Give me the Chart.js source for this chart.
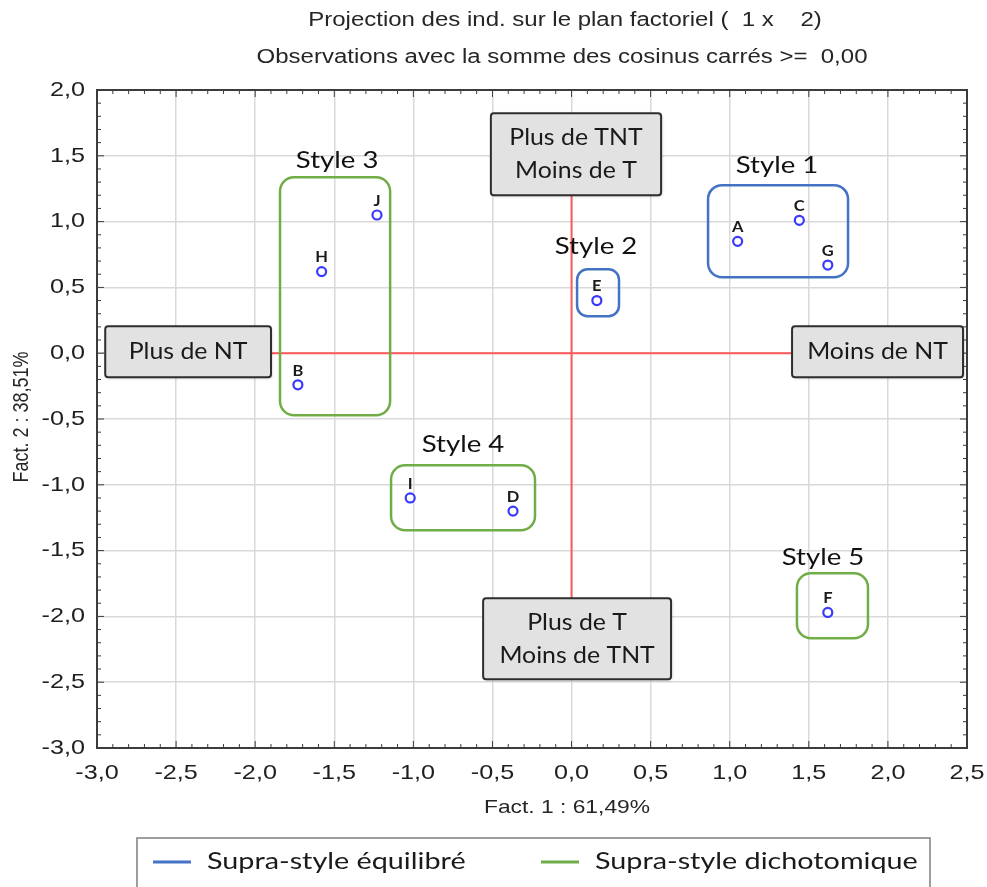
<!DOCTYPE html>
<html>
<head>
<meta charset="utf-8">
<script src="https://cdn.jsdelivr.net/npm/chart.js@4.4.0/dist/chart.umd.min.js"></script>
<style>
  html, body { margin: 0; padding: 0; background: #fff; }
  #wrap { width: 987px; height: 887px; }
</style>
</head>
<body>
<div id="wrap"><canvas id="chart" width="987" height="887"></canvas></div>
<script>
// individuals projected on factor plane 1 x 2
const pointNames = ['A', 'C', 'G', 'E', 'J', 'H', 'B', 'I', 'D', 'F'];
const fact1 = [1.05, 1.44, 1.62, 0.16, -1.23, -1.58, -1.73, -1.02, -0.37, 1.62];
const fact2 = [0.85, 1.01, 0.67, 0.40, 1.05, 0.62, -0.24, -1.10, -1.20, -1.97];

const xTicks = [-3.0, -2.5, -2.0, -1.5, -1.0, -0.5, 0.0, 0.5, 1.0, 1.5, 2.0, 2.5];
const yTicks = [-3.0, -2.5, -2.0, -1.5, -1.0, -0.5, 0.0, 0.5, 1.0, 1.5, 2.0];

const titleLines = ['Projection des ind. sur le plan factoriel (  1 x    2)',
                    'Observations avec la somme des cosinus carrés >=  0,00'];
const xTitle = 'Fact. 1 : 61,49%';
const yTitle = 'Fact. 2 : 38,51%';

const supraStyles = ['Supra-style équilibré', 'Supra-style dichotomique'];
const supraColors = ['#4472c4', '#70ad47'];

// style groups (boxes given in data units)
const styleGroups = [
  { label: 'Style 1', supra: 0, x0: 0.863, x1: 1.748, y0: 0.578, y1: 1.277, lx: 1.299, ly: 1.429 },
  { label: 'Style 2', supra: 0, x0: 0.035, x1: 0.300, y0: 0.281, y1: 0.638, lx: 0.155, ly: 0.813 },
  { label: 'Style 3', supra: 1, x0: -1.843, x1: -1.147, y0: -0.471, y1: 1.337, lx: -1.482, ly: 1.467 },
  { label: 'Style 4', supra: 1, x0: -1.141, x1: -0.231, y0: -1.345, y1: -0.851, lx: -0.686, ly: -0.691 },
  { label: 'Style 5', supra: 1, x0: 1.425, x1: 1.874, y0: -2.166, y1: -1.672, lx: 1.590, ly: -1.550 }
];

// grey boxes at the ends of the axes
const axisBoxes = [
  { lines: ['Plus de TNT', 'Moins de T'], x0: -0.51, x1: 0.566, y0: 1.201, y1: 1.824 },
  { lines: ['Plus de T', 'Moins de TNT'], x0: -0.559, x1: 0.629, y0: -2.477, y1: -1.862 },
  { lines: ['Plus de NT'], x0: -2.948, x1: -1.90, y0: -0.182, y1: 0.205 },
  { lines: ['Moins de NT'], x0: 1.394, x1: 2.475, y0: -0.182, y1: 0.205 }
];

const SX = 1.2; // the source picture is stretched horizontally
const ARIAL = '"Liberation Sans", Arial, sans-serif';
const CALI = 'Lato, "Noto Sans", sans-serif';

const fmt = v => (Math.abs(v) < 1e-9 ? 0 : v).toFixed(1).replace('.', ',');

function stretchText(ctx, text, x, y, font, align, color, sx) {
  ctx.save();
  ctx.font = font;
  ctx.fillStyle = color;
  ctx.textAlign = align || 'center';
  ctx.textBaseline = 'middle';
  ctx.translate(x, y);
  ctx.scale(sx || SX, 1);
  ctx.fillText(text, 0, 0);
  ctx.restore();
}

function roundRect(ctx, x, y, w, h, r) {
  ctx.beginPath();
  ctx.moveTo(x + r, y);
  ctx.lineTo(x + w - r, y);
  ctx.arcTo(x + w, y, x + w, y + r, r);
  ctx.lineTo(x + w, y + h - r);
  ctx.arcTo(x + w, y + h, x + w - r, y + h, r);
  ctx.lineTo(x + r, y + h);
  ctx.arcTo(x, y + h, x, y + h - r, r);
  ctx.lineTo(x, y + r);
  ctx.arcTo(x, y, x + r, y, r);
  ctx.closePath();
}

const decor = {
  id: 'decor',
  beforeDatasetsDraw(chart) {
    const { ctx, chartArea: a, scales: { x, y } } = chart;
    ctx.save();

    // red cross between the grey boxes
    const top = axisBoxes[0], bot = axisBoxes[1], lft = axisBoxes[2], rgt = axisBoxes[3];
    ctx.strokeStyle = '#ff5a5a';
    ctx.lineWidth = 2;
    ctx.beginPath();
    ctx.moveTo(x.getPixelForValue(0), y.getPixelForValue(top.y0));
    ctx.lineTo(x.getPixelForValue(0), y.getPixelForValue(bot.y1));
    ctx.moveTo(x.getPixelForValue(lft.x1), y.getPixelForValue(0));
    ctx.lineTo(x.getPixelForValue(rgt.x0), y.getPixelForValue(0));
    ctx.stroke();

    // frame and inner ticks
    ctx.strokeStyle = '#3c3c3c';
    ctx.lineWidth = 2;
    ctx.strokeRect(a.left, a.top, a.right - a.left, a.bottom - a.top);
    ctx.lineWidth = 1;
    ctx.beginPath();
    for (let i = 0; i <= 55; i++) {
      const v = -3 + i * 0.1;
      const len = i % 5 === 0 ? 7 : 4;
      const px = x.getPixelForValue(v);
      ctx.moveTo(px, a.bottom); ctx.lineTo(px, a.bottom - len);
      ctx.moveTo(px, a.top); ctx.lineTo(px, a.top + len);
    }
    for (let i = 0; i <= 50; i++) {
      const v = -3 + i * 0.1;
      const len = i % 5 === 0 ? 7 : 4;
      const py = y.getPixelForValue(v);
      ctx.moveTo(a.left, py); ctx.lineTo(a.left + len, py);
      ctx.moveTo(a.right, py); ctx.lineTo(a.right - len, py);
    }
    ctx.stroke();

    // grey boxes
    axisBoxes.forEach(b => {
      const bx = x.getPixelForValue(b.x0), by = y.getPixelForValue(b.y1);
      const bw = x.getPixelForValue(b.x1) - bx, bh = y.getPixelForValue(b.y0) - by;
      ctx.save();
      ctx.shadowColor = 'rgba(0,0,0,0.25)';
      ctx.shadowBlur = 3;
      ctx.shadowOffsetX = 1;
      ctx.shadowOffsetY = 1;
      roundRect(ctx, bx, by, bw, bh, 3);
      ctx.fillStyle = '#e2e2e2';
      ctx.fill();
      ctx.restore();
      roundRect(ctx, bx, by, bw, bh, 3);
      ctx.strokeStyle = '#2e2e2e';
      ctx.lineWidth = 2;
      ctx.stroke();
      const n = b.lines.length;
      b.lines.forEach((t, i) => {
        const ty = by + bh / 2 + (i - (n - 1) / 2) * 33;
        stretchText(ctx, t, bx + bw / 2, ty, '23px ' + CALI, 'center', '#1a1a1a', 1.08);
      });
    });

    // style group rectangles
    styleGroups.forEach(g => {
      const gx = x.getPixelForValue(g.x0), gy = y.getPixelForValue(g.y1);
      const gw = x.getPixelForValue(g.x1) - gx, gh = y.getPixelForValue(g.y0) - gy;
      roundRect(ctx, gx, gy, gw, gh, Math.min(14, gw / 4, gh / 4));
      ctx.strokeStyle = supraColors[g.supra];
      ctx.lineWidth = 2.5;
      ctx.stroke();
      stretchText(ctx, g.label, x.getPixelForValue(g.lx), y.getPixelForValue(g.ly),
        '23px ' + CALI, 'center', '#111', 1.2);
    });

    ctx.restore();
  },
  afterDatasetsDraw(chart) {
    const { ctx, scales: { x, y } } = chart;
    // point names
    pointNames.forEach((n, i) => {
      stretchText(ctx, n, x.getPixelForValue(fact1[i]), y.getPixelForValue(fact2[i]) - 14,
        'bold 15px ' + CALI, 'center', '#1a1a1a', 1.1);
    });
  },
  afterDraw(chart) {
    const { ctx, chartArea: a, scales: { x, y } } = chart;
    const tickFont = '21px ' + ARIAL;
    xTicks.forEach(v => stretchText(ctx, fmt(v), x.getPixelForValue(v), a.bottom + 25, tickFont, 'center', '#1e1e1e'));
    yTicks.forEach(v => stretchText(ctx, fmt(v), a.left - 12, y.getPixelForValue(v), tickFont, 'right', '#1e1e1e'));

    // titles
    stretchText(ctx, titleLines[0], 565, 20, '20px ' + ARIAL, 'center', '#262626');
    stretchText(ctx, titleLines[1], 562, 57, '20px ' + ARIAL, 'center', '#262626');
    stretchText(ctx, xTitle, 567, 808, '19px ' + ARIAL, 'center', '#262626');
    ctx.save();
    ctx.translate(22, 417);
    ctx.rotate(-Math.PI / 2);
    ctx.scale(1, SX);
    ctx.font = '18px ' + ARIAL;
    ctx.fillStyle = '#262626';
    ctx.textAlign = 'center';
    ctx.textBaseline = 'middle';
    ctx.fillText(yTitle, 0, 0);
    ctx.restore();

    // legend box
    ctx.save();
    ctx.strokeStyle = '#7f7f7f';
    ctx.lineWidth = 1.5;
    ctx.strokeRect(137, 838, 793, 60);
    const items = [{ x: 153 }, { x: 541 }];
    items.forEach((it, i) => {
      ctx.strokeStyle = supraColors[i];
      ctx.lineWidth = 3;
      ctx.beginPath();
      ctx.moveTo(it.x, 862);
      ctx.lineTo(it.x + 38, 862);
      ctx.stroke();
      stretchText(ctx, supraStyles[i], it.x + 54, 862, '23px ' + CALI, 'left', '#1a1a1a', 1.25);
    });
    ctx.restore();
  }
};

new Chart(document.getElementById('chart'), {
  type: 'scatter',
  data: {
    datasets: [{
      label: 'Individus',
      data: fact1.map((v, i) => ({ x: v, y: fact2[i] })),
      pointStyle: 'circle',
      pointRadius: 4.5,
      pointHoverRadius: 4.5,
      pointBorderWidth: 2.2,
      pointBorderColor: '#3838ff',
      pointBackgroundColor: '#ffffff'
    }]
  },
  options: {
    responsive: false,
    animation: false,
    layout: { padding: { top: 90, left: 0, right: 20, bottom: 94 } },
    plugins: { legend: { display: false }, tooltip: { enabled: false }, title: { display: false } },
    scales: {
      x: {
        type: 'linear', min: -3, max: 2.5,
        ticks: { stepSize: 0.5, display: false },
        grid: { color: '#d9d9d9', lineWidth: 1.5, drawTicks: false },
        border: { display: false },
        afterFit: s => { s.height = 45; }
      },
      y: {
        type: 'linear', min: -3, max: 2,
        ticks: { stepSize: 0.5, display: false },
        grid: { color: '#d9d9d9', lineWidth: 1.5, drawTicks: false },
        border: { display: false },
        afterFit: s => { s.width = 97; }
      }
    }
  },
  plugins: [decor]
});
</script>
</body>
</html>
